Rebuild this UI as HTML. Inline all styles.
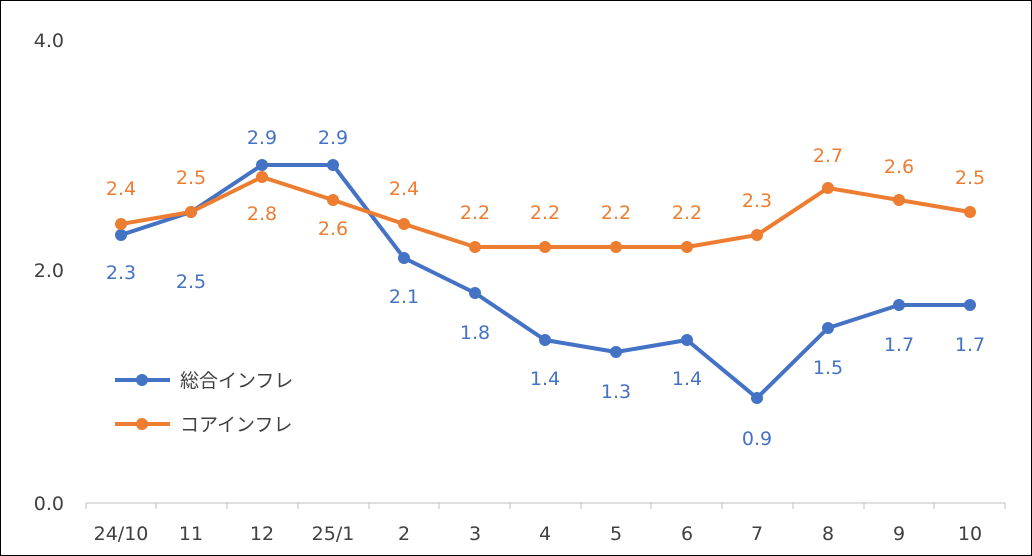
<!DOCTYPE html>
<html><head><meta charset="utf-8"><style>
html,body{margin:0;padding:0;background:#fff}
svg{display:block}
text{font-family:"DejaVu Sans","Noto Sans CJK JP",sans-serif;font-size:19px}
</style></head><body>
<svg width="1032" height="556" viewBox="0 0 1032 556">
<rect x="0.5" y="0.5" width="1031" height="555" fill="#fff" stroke="#000" stroke-width="1"/>
<g fill="#404040" text-anchor="end">
<text x="64" y="47">4.0</text>
<text x="64" y="277">2.0</text>
<text x="64" y="510">0.0</text>
</g>
<line x1="86" y1="503" x2="1005" y2="503" stroke="#bfbfbf" stroke-width="1"/>
<g stroke="#bfbfbf" stroke-width="1">
<line x1="86" y1="503" x2="86" y2="509"/><line x1="156" y1="503" x2="156" y2="509"/><line x1="227" y1="503" x2="227" y2="509"/><line x1="298" y1="503" x2="298" y2="509"/><line x1="369" y1="503" x2="369" y2="509"/><line x1="439" y1="503" x2="439" y2="509"/><line x1="510" y1="503" x2="510" y2="509"/><line x1="581" y1="503" x2="581" y2="509"/><line x1="651" y1="503" x2="651" y2="509"/><line x1="722" y1="503" x2="722" y2="509"/><line x1="793" y1="503" x2="793" y2="509"/><line x1="864" y1="503" x2="864" y2="509"/><line x1="934" y1="503" x2="934" y2="509"/><line x1="1005" y1="503" x2="1005" y2="509"/>
</g>
<g fill="#404040" text-anchor="middle">
<text x="121" y="540">24/10</text><text x="191" y="540">11</text><text x="262" y="540">12</text><text x="333" y="540">25/1</text><text x="404" y="540">2</text><text x="475" y="540">3</text><text x="545" y="540">4</text><text x="616" y="540">5</text><text x="687" y="540">6</text><text x="757" y="540">7</text><text x="828" y="540">8</text><text x="899" y="540">9</text><text x="970" y="540">10</text>
</g>
<polyline fill="none" stroke="#4472c4" stroke-width="4" stroke-linejoin="round" points="121,235 191,212 262,165 333,165 404,258 475,293 545,340 616,352 687,340 757,398 828,328 899,305 970,305"/>
<polyline fill="none" stroke="#ed7d31" stroke-width="4" stroke-linejoin="round" points="121,224 191,212 262,177 333,200 404,224 475,247 545,247 616,247 687,247 757,235 828,188 899,200 970,212"/>
<g fill="#4472c4">
<circle cx="121" cy="235" r="6"/><circle cx="191" cy="212" r="6"/><circle cx="262" cy="165" r="6"/><circle cx="333" cy="165" r="6"/><circle cx="404" cy="258" r="6"/><circle cx="475" cy="293" r="6"/><circle cx="545" cy="340" r="6"/><circle cx="616" cy="352" r="6"/><circle cx="687" cy="340" r="6"/><circle cx="757" cy="398" r="6"/><circle cx="828" cy="328" r="6"/><circle cx="899" cy="305" r="6"/><circle cx="970" cy="305" r="6"/>
</g>
<g fill="#ed7d31">
<circle cx="121" cy="224" r="6"/><circle cx="191" cy="212" r="6"/><circle cx="262" cy="177" r="6"/><circle cx="333" cy="200" r="6"/><circle cx="404" cy="224" r="6"/><circle cx="475" cy="247" r="6"/><circle cx="545" cy="247" r="6"/><circle cx="616" cy="247" r="6"/><circle cx="687" cy="247" r="6"/><circle cx="757" cy="235" r="6"/><circle cx="828" cy="188" r="6"/><circle cx="899" cy="200" r="6"/><circle cx="970" cy="212" r="6"/>
</g>
<g fill="#4472c4" text-anchor="middle">
<text x="121" y="279">2.3</text><text x="191" y="288">2.5</text><text x="262" y="144">2.9</text><text x="333" y="144">2.9</text><text x="404" y="303">2.1</text><text x="475" y="339">1.8</text><text x="545" y="385">1.4</text><text x="616" y="398">1.3</text><text x="687" y="385">1.4</text><text x="757" y="445">0.9</text><text x="828" y="374">1.5</text><text x="899" y="351">1.7</text><text x="970" y="351">1.7</text>
</g>
<g fill="#ed7d31" text-anchor="middle">
<text x="121" y="195">2.4</text><text x="191" y="184">2.5</text><text x="262" y="220">2.8</text><text x="333" y="235">2.6</text><text x="404" y="195">2.4</text><text x="475" y="219">2.2</text><text x="545" y="219">2.2</text><text x="616" y="219">2.2</text><text x="687" y="219">2.2</text><text x="757" y="207">2.3</text><text x="828" y="162">2.7</text><text x="899" y="173">2.6</text><text x="970" y="184">2.5</text>
</g>
<line x1="115" y1="380" x2="170" y2="380" stroke="#4472c4" stroke-width="4"/>
<circle cx="142" cy="380" r="6" fill="#4472c4"/>
<text x="180" y="387" fill="#404040">総合インフレ</text>
<line x1="115" y1="424" x2="170" y2="424" stroke="#ed7d31" stroke-width="4"/>
<circle cx="142" cy="424" r="6" fill="#ed7d31"/>
<text x="180" y="431" fill="#404040">コアインフレ</text>
</svg>
</body></html>
